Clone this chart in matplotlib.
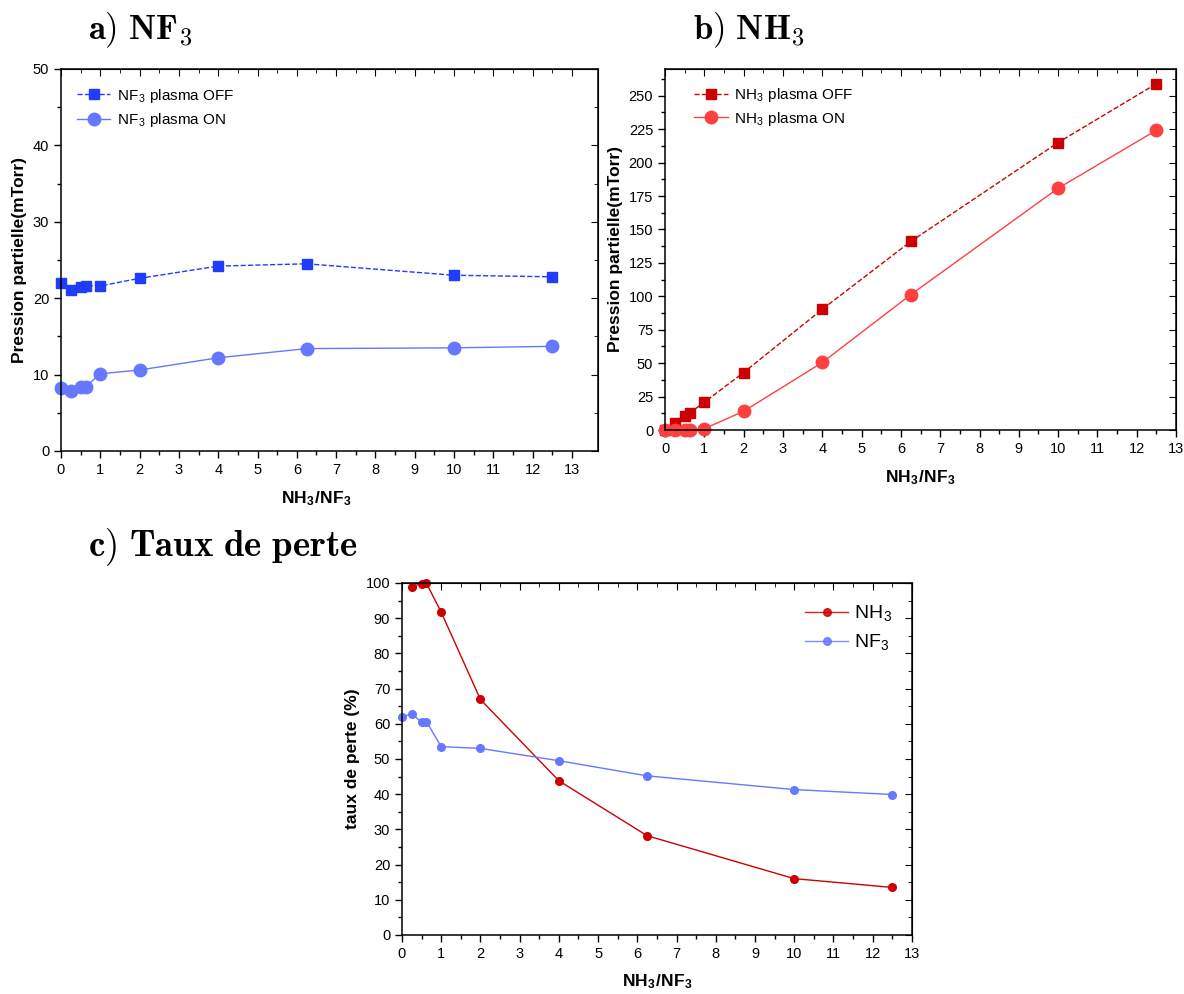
import matplotlib.pyplot as plt
import numpy as np
from matplotlib.ticker import MultipleLocator, FixedLocator

plt.rcParams['font.family'] = ['Liberation Sans', 'DejaVu Sans']
plt.rcParams['mathtext.fontset'] = 'cm'

# ratio NH3/NF3
ratio = [0, 0.25, 0.5, 0.625, 1, 2, 4, 6.25, 10, 12.5]

nf3_off = [22.0, 21.1, 21.5, 21.6, 21.6, 22.6, 24.2, 24.5, 23.0, 22.8]
nf3_on = [8.2, 7.8, 8.4, 8.4, 10.1, 10.6, 12.2, 13.4, 13.5, 13.7]

nh3_off = [0, 5.2, 10.3, 12.7, 20.8, 43.0, 90.3, 141.0, 215.0, 259.0]
nh3_on = [0, 0, 0, 0, 1.0, 14.0, 50.5, 101.2, 180.8, 224.2]

ratio_nh3 = [0.25, 0.5, 0.625, 1, 2, 4, 6.25, 10, 12.5]
perte_nh3 = [99.0, 99.8, 99.9, 91.7, 66.9, 43.8, 28.2, 16.0, 13.5]
perte_nf3 = [62.0, 62.8, 60.5, 60.6, 53.5, 53.0, 49.5, 45.2, 41.3, 39.9]

fig = plt.figure(figsize=(11.84, 9.94), dpi=100)
ax_a = fig.add_axes([0.0515, 0.5463, 0.4535, 0.3843])
ax_b = fig.add_axes([0.5617, 0.5674, 0.4316, 0.3632])
ax_c = fig.add_axes([0.3395, 0.0594, 0.4307, 0.3541])


def style(ax, xmax, ymax, ymaj, ylabel):
    ax.set_xlim(0, xmax)
    ax.set_ylim(0, ymax)
    ax.xaxis.set_major_locator(FixedLocator(np.arange(0, 14)))
    ax.xaxis.set_minor_locator(FixedLocator(np.arange(0.5, 13, 1)))
    ax.yaxis.set_major_locator(MultipleLocator(ymaj))
    ax.yaxis.set_minor_locator(MultipleLocator(ymaj / 2))
    ax.tick_params(which='both', direction='out', labelsize=10.5, width=1)
    ax.tick_params(which='major', length=5)
    ax.tick_params(which='minor', length=3)
    for s in ax.spines.values():
        s.set_linewidth(1.1)
    # top and right: inward ticks, no labels
    top = ax.secondary_xaxis('top')
    top.xaxis.set_major_locator(FixedLocator(np.arange(0, 14)))
    top.xaxis.set_minor_locator(FixedLocator(np.arange(0.5, 13, 1)))
    top.tick_params(which='both', direction='in', labeltop=False)
    top.tick_params(which='major', length=5)
    top.tick_params(which='minor', length=3)
    right = ax.secondary_yaxis('right')
    right.yaxis.set_major_locator(MultipleLocator(ymaj))
    right.yaxis.set_minor_locator(MultipleLocator(ymaj / 2))
    right.tick_params(which='both', direction='in', labelright=False)
    right.tick_params(which='major', length=5)
    right.tick_params(which='minor', length=3)
    ax.set_xlabel(r'NH$_\mathregular{3}$/NF$_\mathregular{3}$', fontsize=12.5, fontweight='bold')
    ax.xaxis.set_label_coords(6.5 / xmax, -0.1 if ax is ax_a else -0.105)
    ax.set_ylabel(ylabel, fontsize=12.5, fontweight='bold', labelpad=4)


# a) NF3
style(ax_a, 13.66, 50, 10, 'Pression partielle(mTorr)')
ax_a.plot(ratio, nf3_off, '--s', color='#1f3cff', lw=1, ms=7.5, clip_on=False,
          label=r'NF$_\mathregular{3}$ plasma OFF')
ax_a.plot(ratio, nf3_on, '-o', color='#6678ff', lw=1, ms=9, clip_on=False,
          label=r'NF$_\mathregular{3}$ plasma ON')
ax_a.legend(loc='upper left', bbox_to_anchor=(0.004, 0.99), frameon=False, fontsize=11,
            handlelength=2.2, labelspacing=0.45, handletextpad=0.4)

# b) NH3
style(ax_b, 13, 270, 25, 'Pression partielle(mTorr)')
ax_b.plot(ratio, nh3_off, '--s', color='#cc0000', lw=1, ms=7.5, clip_on=False,
          label=r'NH$_\mathregular{3}$ plasma OFF')
ax_b.plot(ratio, nh3_on, '-o', color='#ff4040', lw=1, ms=9, clip_on=False,
          label=r'NH$_\mathregular{3}$ plasma ON')
ax_b.legend(loc='upper left', bbox_to_anchor=(0.03, 0.99), frameon=False, fontsize=11,
            handlelength=2.2, labelspacing=0.35, handletextpad=0.4)

# c) taux de perte
style(ax_c, 13, 100, 10, 'taux de perte (%)')
ax_c.plot(ratio_nh3, perte_nh3, '-o', color='#cc0000', lw=1, ms=5.5, clip_on=False,
          label=r'NH$_\mathregular{3}$')
ax_c.plot(ratio, perte_nf3, '-o', color='#6678ff', lw=1, ms=5.5, clip_on=False,
          label=r'NF$_\mathregular{3}$')
leg = ax_c.legend(loc='upper right', bbox_to_anchor=(0.995, 0.99), frameon=False, fontsize=14,
                  handlelength=2.2, labelspacing=0.45, handletextpad=0.3)
for line in leg.get_lines():
    line.set_alpha(0.85)

fig.text(0.074, 0.97, r'$\mathbf{a)\ NF_3}$', fontsize=25, va='center')
fig.text(0.585, 0.97, r'$\mathbf{b)\ NH_3}$', fontsize=25, va='center')
fig.text(0.074, 0.45, r'$\mathbf{c)\ Taux\ de\ perte}$', fontsize=26.5, va='center')

fig.savefig('out.png', dpi=100)
